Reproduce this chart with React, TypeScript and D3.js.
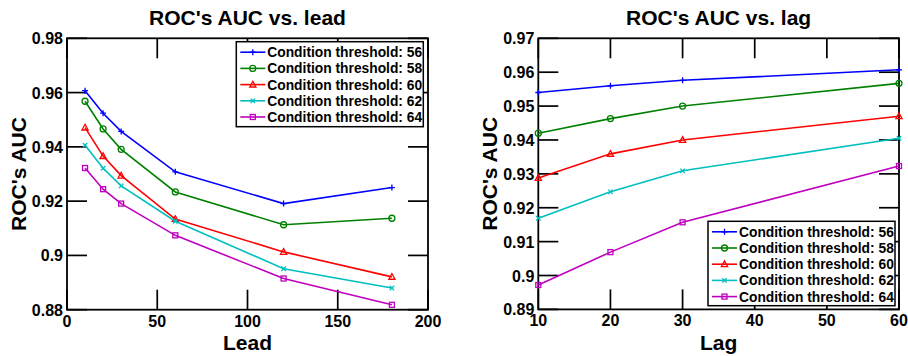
import React from "react";
import * as d3 from "d3";

const thresholds = ["56", "58", "60", "62", "64"];
const colors = ["#0000ff", "#008000", "#ff0000", "#00bfbf", "#bf00bf"];
const markers = ["plus", "circle", "triangle", "x", "square"];

const leadX = [10, 20, 30, 60, 120, 180];
const lead56 = [0.9607, 0.9524, 0.9457, 0.9308, 0.9191, 0.925];
const lead58 = [0.9568, 0.9466, 0.9391, 0.9234, 0.9113, 0.9137];
const lead60 = [0.9471, 0.9366, 0.9294, 0.9134, 0.9013, 0.8921];
const lead62 = [0.9406, 0.9321, 0.9256, 0.9126, 0.8951, 0.888];
const lead64 = [0.9322, 0.9244, 0.9191, 0.9074, 0.8915, 0.8818];

const lagX = [10, 20, 30, 60];
const lag56 = [0.954, 0.956, 0.9576, 0.9607];
const lag58 = [0.942, 0.9463, 0.95, 0.9567];
const lag60 = [0.9288, 0.9359, 0.94, 0.947];
const lag62 = [0.9169, 0.9247, 0.9309, 0.9405];
const lag64 = [0.8972, 0.9069, 0.9157, 0.9323];

const leadXTicks = [0, 50, 100, 150, 200];
const leadYTicks = [0.88, 0.9, 0.92, 0.94, 0.96, 0.98];
const lagXTicks = [10, 20, 30, 40, 50, 60];
const lagYTicks = [0.89, 0.9, 0.91, 0.92, 0.93, 0.94, 0.95, 0.96, 0.97];

const FONT = "'Liberation Sans', Arial, Helvetica, sans-serif";

function fmt(v: number) {
  return String(+v.toFixed(4));
}

function Marker({ type, x, y, color }: { type: string; x: number; y: number; color: string }) {
  const s = 3;
  const sw = 1.3;
  if (type === "plus")
    return (
      <path d={`M${x - s},${y}H${x + s}M${x},${y - s}V${y + s}`} stroke={color} strokeWidth={sw} fill="none" />
    );
  if (type === "circle") return <circle cx={x} cy={y} r={3} stroke={color} strokeWidth={sw} fill="none" />;
  if (type === "triangle")
    return (
      <path d={`M${x},${y - 3.3}L${x + 3.1},${y + 2.4}L${x - 3.1},${y + 2.4}Z`} stroke={color} strokeWidth={sw} fill="none" />
    );
  if (type === "x")
    return (
      <path d={`M${x - 2.2},${y - 2.2}L${x + 2.2},${y + 2.2}M${x - 2.2},${y + 2.2}L${x + 2.2},${y - 2.2}`} stroke={color} strokeWidth={sw} fill="none" />
    );
  return <rect x={x - 2.5} y={y - 2.5} width={5} height={5} stroke={color} strokeWidth={sw} fill="none" />;
}

type PanelProps = {
  title: string;
  xLabel: string;
  xs: number[];
  series: number[][];
  xDomain: [number, number];
  yDomain: [number, number];
  xTicks: number[];
  yTicks: number[];
  box: { x0: number; x1: number; y0: number; y1: number };
  legend: { x: number; y: number; w: number; h: number };
  yLabelX: number;
};

function Panel(p: PanelProps) {
  const x = d3.scaleLinear().domain(p.xDomain).range([p.box.x0, p.box.x1]);
  const y = d3.scaleLinear().domain(p.yDomain).range([p.box.y1, p.box.y0]);
  const line = d3
    .line<number>()
    .x((_, i) => x(p.xs[i]))
    .y((d) => y(d));
  const tl = 20;
  const cx = (p.box.x0 + p.box.x1) / 2;
  const cy = (p.box.y0 + p.box.y1) / 2;
  const rowH = 16.2;
  return (
    <g fontFamily={FONT} fontWeight="bold">
      <text x={cx} y={25} textAnchor="middle" fontSize={21}>
        {p.title}
      </text>
      {p.xTicks.map((t) => (
        <g key={"xt" + t}>
          <line x1={x(t)} x2={x(t)} y1={p.box.y1} y2={p.box.y1 - tl} stroke="#000" strokeWidth={1.7} />
          <line x1={x(t)} x2={x(t)} y1={p.box.y0} y2={p.box.y0 + tl} stroke="#000" strokeWidth={1.7} />
          <text x={x(t)} y={p.box.y1 + 17} textAnchor="middle" fontSize={16}>
            {fmt(t)}
          </text>
        </g>
      ))}
      {p.yTicks.map((t) => (
        <g key={"yt" + t}>
          <line x1={p.box.x0} x2={p.box.x0 + tl} y1={y(t)} y2={y(t)} stroke="#000" strokeWidth={1.7} />
          <line x1={p.box.x1} x2={p.box.x1 - tl} y1={y(t)} y2={y(t)} stroke="#000" strokeWidth={1.7} />
          <text x={p.box.x0 - 4} y={y(t) + 6} textAnchor="end" fontSize={16}>
            {fmt(t)}
          </text>
        </g>
      ))}
      <rect
        x={p.box.x0}
        y={p.box.y0}
        width={p.box.x1 - p.box.x0}
        height={p.box.y1 - p.box.y0}
        fill="none"
        stroke="#000"
        strokeWidth={1.8}
      />
      <text x={cx} y={350} textAnchor="middle" fontSize={21}>
        {p.xLabel}
      </text>
      <text
        transform={`translate(${p.yLabelX},${cy}) rotate(-90)`}
        textAnchor="middle"
        fontSize={21}
      >
        ROC's AUC
      </text>
      {p.series.map((s, si) => (
        <g key={"s" + si}>
          <path d={line(s) || ""} fill="none" stroke={colors[si]} strokeWidth={1.6} />
          {s.map((v, i) => (
            <Marker key={i} type={markers[si]} x={x(p.xs[i])} y={y(v)} color={colors[si]} />
          ))}
        </g>
      ))}
      <rect
        x={p.legend.x}
        y={p.legend.y}
        width={p.legend.w}
        height={p.legend.h}
        fill="#fff"
        stroke="#000"
        strokeWidth={1.5}
      />
      {thresholds.map((th, i) => {
        const ry = p.legend.y + 10.5 + i * rowH;
        return (
          <g key={"l" + th}>
            <line x1={p.legend.x + 4} x2={p.legend.x + 29} y1={ry} y2={ry} stroke={colors[i]} strokeWidth={1.6} />
            <Marker type={markers[i]} x={p.legend.x + 16.5} y={ry} color={colors[i]} />
            <text x={p.legend.x + 31} y={ry + 5} fontSize={13.8}>
              {"Condition threshold: " + th}
            </text>
          </g>
        );
      })}
    </g>
  );
}

export default function App() {
  return (
    <svg width={908} height={356} style={{ position: "absolute", left: 0, top: 0, background: "#fff" }}>
      <rect width={908} height={356} fill="#fff" />
      <Panel
        title="ROC's AUC vs. lead"
        xLabel="Lead"
        xs={leadX}
        series={[lead56, lead58, lead60, lead62, lead64]}
        xDomain={[0, 200]}
        yDomain={[0.88, 0.98]}
        xTicks={leadXTicks}
        yTicks={leadYTicks}
        box={{ x0: 67, x1: 428, y0: 38.3, y1: 309.7 }}
        legend={{ x: 236.3, y: 41.7, w: 187, h: 85 }}
        yLabelX={26}
      />
      <Panel
        title="ROC's AUC vs. lag"
        xLabel="Lag"
        xs={lagX}
        series={[lag56, lag58, lag60, lag62, lag64]}
        xDomain={[10, 60]}
        yDomain={[0.89, 0.97]}
        xTicks={lagXTicks}
        yTicks={lagYTicks}
        box={{ x0: 538.3, x1: 899, y0: 38.3, y1: 309.4 }}
        legend={{ x: 708, y: 221.3, w: 187, h: 84.4 }}
        yLabelX={497}
      />
    </svg>
  );
}
